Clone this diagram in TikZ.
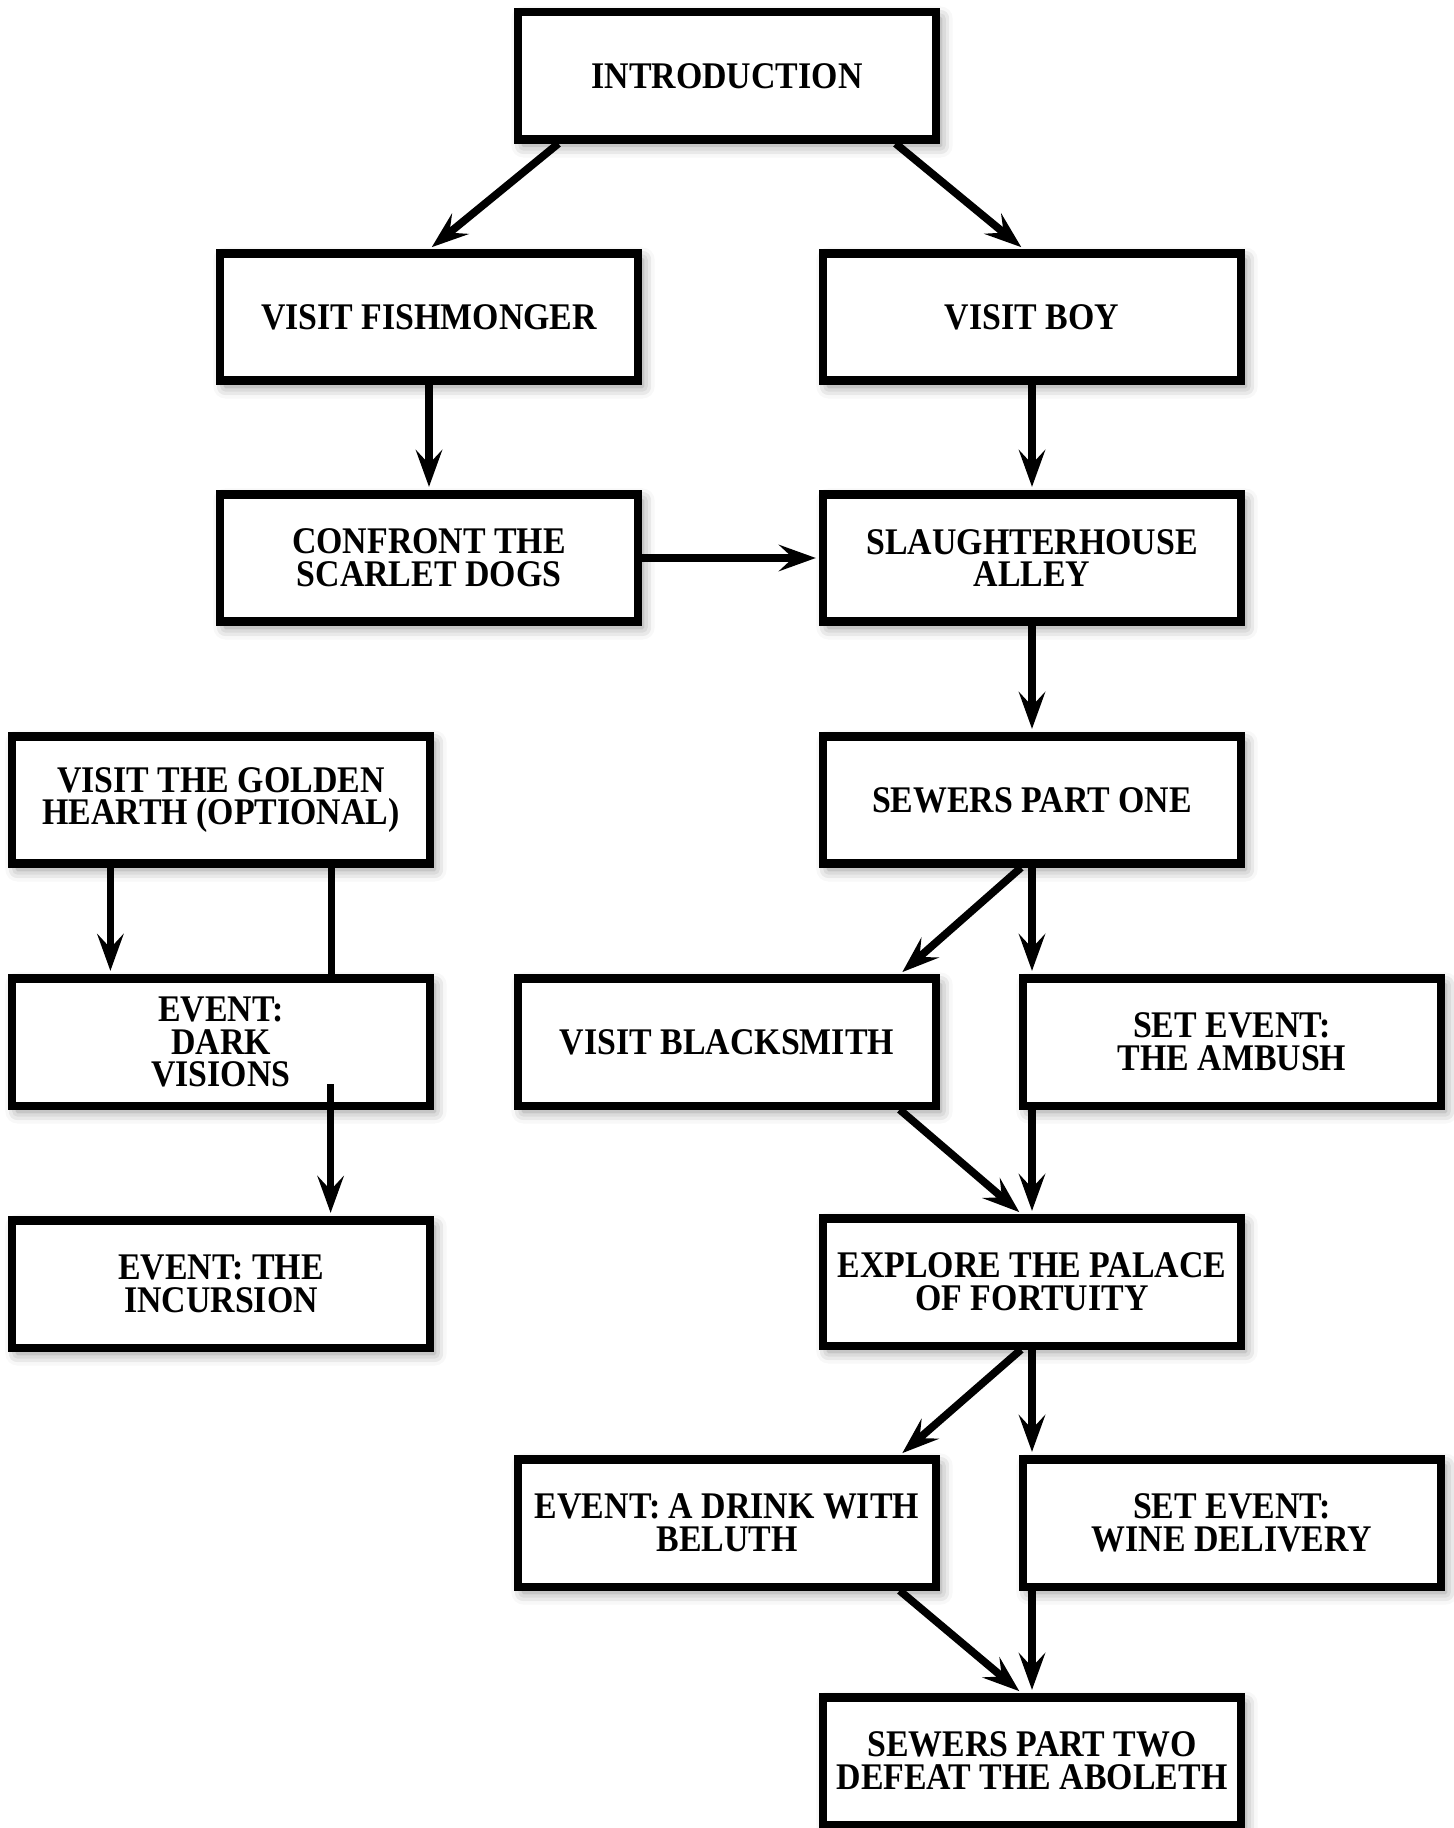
\documentclass[tikz,border=0pt]{standalone}
\usepackage{fontspec}
\setmainfont{Liberation Serif}[FakeStretch=0.9]
\usetikzlibrary{arrows.meta,shadows.blur}

\begin{document}
\begin{tikzpicture}[x=0.01cm,y=-0.01cm]

    \tikzset{
      stage/.style={
        draw,
        fill=white,
        line width=2.3pt,
        minimum width=4.17cm,
        minimum height=1.27cm,
        inner sep=0pt,
        align=center,
        font=\fontsize{10.7}{9.3}\selectfont\bfseries,
        blur shadow={shadow xshift=0.05cm,shadow yshift=-0.06cm,
          shadow blur radius=0.12cm,shadow opacity=45},
      },
      link/.style={
        line width=2.2pt,
        -{Stealth[length=10.5pt,width=7.5pt,inset=4pt]},
        shorten >=1pt,
      },
    }
    \useasboundingbox (0,0) rectangle (1453,1828);

    \node[stage] (intro) at (727,76) {INTRODUCTION};
    \node[stage] (fish) at (429,317) {VISIT FISHMONGER};
    \node[stage] (boy) at (1032,317) {VISIT BOY};
    \node[stage] (confront) at (429,558) {CONFRONT THE\\SCARLET DOGS};
    \node[stage] (slaughter) at (1032,558) {SLAUGHTERHOUSE\\ALLEY};
    \node[stage] (hearth) at (221,800) {VISIT THE GOLDEN\\HEARTH (OPTIONAL)};
    \node[stage] (sewersone) at (1032,800) {SEWERS PART ONE};
    \node[stage] (dark) at (221,1042) {EVENT:\\DARK\\VISIONS};
    \node[stage] (smith) at (727,1042) {VISIT BLACKSMITH};
    \node[stage] (ambush) at (1232,1042) {SET EVENT:\\THE AMBUSH};
    \node[stage] (incursion) at (221,1284) {EVENT: THE\\INCURSION};
    \node[stage] (palace) at (1032,1282) {EXPLORE THE PALACE\\OF FORTUITY};
    \node[stage] (drink) at (727,1523) {EVENT: A DRINK WITH\\BELUTH};
    \node[stage] (wine) at (1232,1523) {SET EVENT:\\WINE DELIVERY};
    \node[stage] (sewerstwo) at (1032,1761) {SEWERS PART TWO\\DEFEAT THE ABOLETH};

    % top half
    \draw[link] ([xshift=0.44cm]intro.south west) -- (fish.north);
    \draw[link] ([xshift=-0.44cm]intro.south east) -- ([xshift=-0.08cm]boy.north);
    \draw[link] (fish.south) -- (confront.north);
    \draw[link] (boy.south) -- (slaughter.north);
    \draw[link] (confront.east) -- (slaughter.west);
    \draw[link] (slaughter.south) -- (sewersone.north);

    % left column
    \coordinate (hl) at ([xshift=1.02cm]hearth.south west);
    \coordinate (hr) at ([xshift=-1.02cm]hearth.south east);
    \coordinate (dv) at ([xshift=-1.03cm,yshift=-0.42cm]dark.east);
    \draw[link] (hl) -- (hl |- dark.north);
    \draw[line width=2.2pt] (hr) -- (hr |- dark.north);
    \draw[link] (dv) -- (dv |- incursion.north);

    % right half
    \draw[link] ([xshift=-0.11cm]sewersone.south) -- ([xshift=-0.4cm]smith.north east);
    \draw[link] (sewersone.south) -- (sewersone.south |- ambush.north);
    \draw[link] ([xshift=-0.4cm]smith.south east) -- ([xshift=-0.1cm]palace.north);
    \draw[link] (palace.north |- ambush.south) -- (palace.north);
    \draw[link] ([xshift=-0.11cm]palace.south) -- ([xshift=-0.4cm]drink.north east);
    \draw[link] (palace.south) -- (palace.south |- wine.north);
    \draw[link] ([xshift=-0.4cm]drink.south east) -- ([xshift=-0.1cm]sewerstwo.north);
    \draw[link] (sewerstwo.north |- wine.south) -- (sewerstwo.north);

\end{tikzpicture}
\end{document}
